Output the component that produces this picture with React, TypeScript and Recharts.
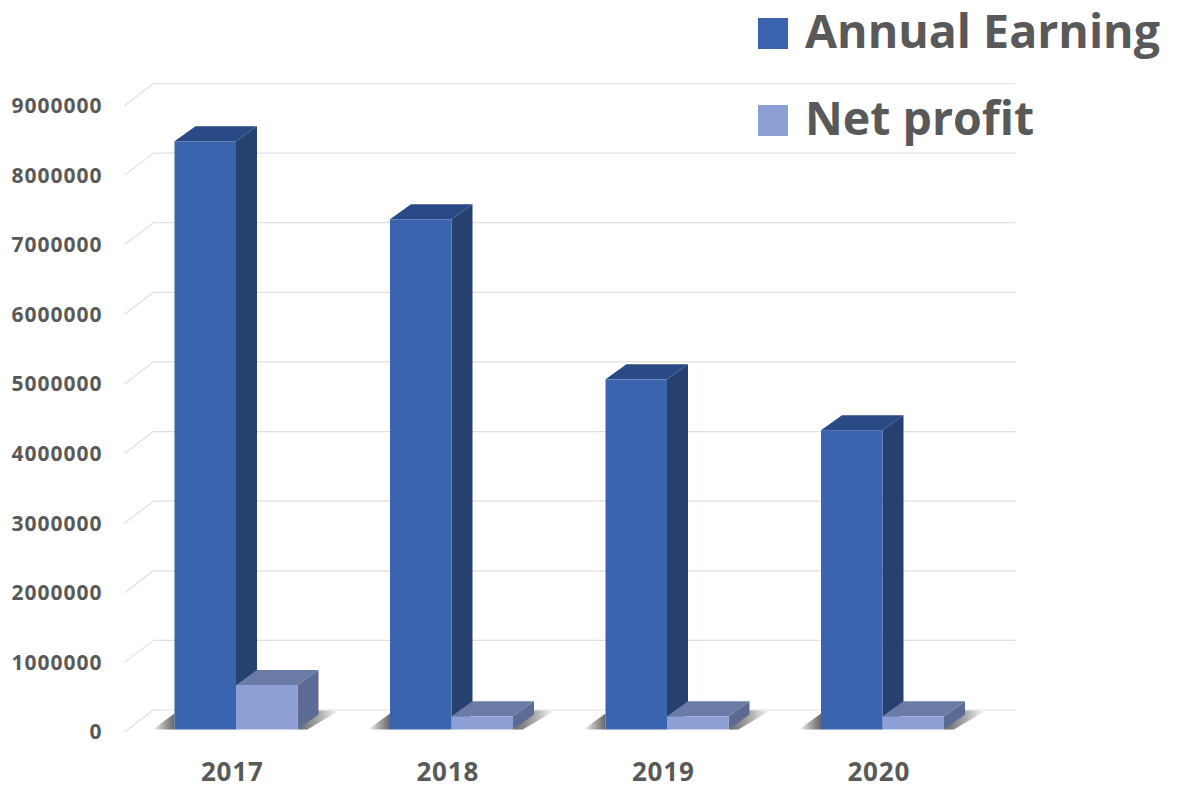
import { BarChart, Bar, XAxis, YAxis, CartesianGrid, Legend } from 'recharts';

const years = ['2017', '2018', '2019', '2020'];
const annualEarning = [8450000, 7330000, 5030000, 4300000];
const netProfit = [640000, 190000, 190000, 190000];
const yTicks = [0, 1000000, 2000000, 3000000, 4000000, 5000000, 6000000, 7000000, 8000000, 9000000];

const data = years.map((year, i) => ({
  year,
  earning: annualEarning[i],
  profit: netProfit[i],
}));

const fontFamily = '"Open Sans", "Noto Sans", sans-serif';
const labelColor = '#595959';
const gridColor = '#e0e0e0';

// bars are drawn a little to the right of their tick label, like the 3D chart they come from
const shiftX = 4;
const depthX = 21;
const depthY = 15;

type BoxProps = {
  x: number;
  y: number;
  width: number;
  height: number;
  front: string;
  side: string;
  top: string;
};

function box({ x, y, width, height, front, side, top }: BoxProps) {
  const r = x + width;
  const b = y + height;
  return (
    <g>
      <polygon points={`${r},${y} ${r + depthX},${y - depthY} ${r + depthX},${b - depthY} ${r},${b}`} fill={side} />
      <polygon points={`${x},${y} ${x + depthX},${y - depthY} ${r + depthX},${y - depthY} ${r},${y}`} fill={top} />
      <rect x={x} y={y} width={width} height={height} fill={front} />
    </g>
  );
}

function EarningBar(props: any) {
  const { x, y, width, height } = props;
  const left = x + shiftX;
  const b = y + height;
  return (
    <g>
      <polygon points={`${left - 22},${b} ${left},${b - 16} ${left},${b}`} fill="url(#shadowLeft)" />
      {box({ x: left, y, width, height, front: '#3a64ad', side: '#26406f', top: '#2a4a85' })}
    </g>
  );
}

function ProfitBar(props: any) {
  const { x, y, width, height } = props;
  const left = x + shiftX;
  const r = left + width;
  const b = y + height;
  return (
    <g>
      <polygon points={`${r},${b} ${r + 10},${b} ${r + 42},${b - 19} ${r + 20},${b - 19}`} fill="url(#shadowRight)" />
      {box({ x: left, y, width, height, front: '#8e9fd6', side: '#5b6b93', top: '#6a7ba6' })}
    </g>
  );
}

// back wall line plus the short diagonal running down to the value labels
function WallLine(props: any) {
  const { x1, x2, y1 } = props;
  return (
    <g stroke={gridColor} strokeWidth={1.2} fill="none">
      <line x1={x1 + 29} y1={y1 - 19.5} x2={x2 + 29} y2={y1 - 19.5} />
      <line x1={x1} y1={y1 + 2.5} x2={x1 + 29} y2={y1 - 19.5} />
    </g>
  );
}

function LegendBox({ payload }: any) {
  return (
    <div style={{ fontFamily, color: labelColor, fontWeight: 700, fontSize: 46.5 }}>
      {(payload || []).map((item: any) => (
        <div key={item.value} style={{ display: 'flex', alignItems: 'center', height: 87, whiteSpace: 'nowrap' }}>
          <span style={{ width: 30, height: 31, background: item.color, marginRight: 17 }} />
          <span style={{ position: 'relative', top: -4 }}>{item.value}</span>
        </div>
      ))}
    </div>
  );
}

export default function App() {
  return (
    <div style={{ position: 'absolute', left: 0, top: 0, background: '#fff' }}>
      <BarChart
        width={1179}
        height={785}
        data={data}
        barSize={61.5}
        barGap={0}
        margin={{ top: 103, right: 192.5, bottom: 5.5, left: 4.5 }}
      >
        <defs>
          <linearGradient id="shadowLeft" x1="0" y1="0" x2="1" y2="0">
            <stop offset="0%" stopColor="#ffffff" />
            <stop offset="45%" stopColor="#b0b0b0" />
            <stop offset="100%" stopColor="#666666" />
          </linearGradient>
          <linearGradient id="shadowRight" x1="0" y1="0" x2="1" y2="0">
            <stop offset="0%" stopColor="#666666" />
            <stop offset="55%" stopColor="#b0b0b0" />
            <stop offset="100%" stopColor="#ffffff" />
          </linearGradient>
        </defs>
        <CartesianGrid vertical={false} horizontal={WallLine} />
        <XAxis
          dataKey="year"
          height={50}
          axisLine={false}
          tickLine={false}
          tickSize={0}
          tickMargin={33}
          interval={0}
          tick={{ fontFamily, fontSize: 26, fontWeight: 700, fill: labelColor, letterSpacing: 0.8 }}
        />
        <YAxis
          width={120}
          domain={[0, 9000000]}
          ticks={yTicks}
          interval={0}
          axisLine={false}
          tickLine={false}
          tickSize={0}
          tickMargin={22}
          dy={2.5}
          tick={{ fontFamily, fontSize: 21, fontWeight: 700, fill: labelColor, letterSpacing: 1 }}
        />
        <Legend
          layout="vertical"
          align="center"
          verticalAlign="middle"
          content={LegendBox}
          wrapperStyle={{ left: 758, top: -10, width: 420 }}
        />
        <Bar dataKey="earning" name="Annual Earning" fill="#3a64ad" shape={EarningBar} isAnimationActive={false} />
        <Bar dataKey="profit" name="Net profit" fill="#8e9fd6" shape={ProfitBar} isAnimationActive={false} />
      </BarChart>
    </div>
  );
}
